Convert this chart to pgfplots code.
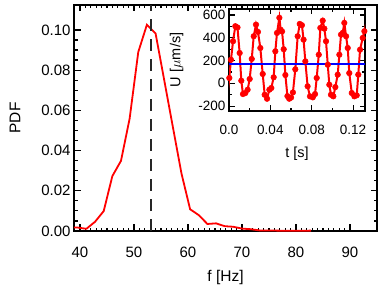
\documentclass[border=0pt]{standalone}
\usepackage{fontspec}
\setmainfont{Liberation Sans}
\usepackage{pgfplots}
\pgfplotsset{compat=1.18}
\begin{document}
\begin{tikzpicture}
\path[use as bounding box] (-74pt,-55pt) rectangle (308pt,231pt);
\begin{axis}[
  at={(0pt,0pt)}, anchor=south west,
  scale only axis, width=303pt, height=226pt,
  xmin=38.9, xmax=95, ymin=0, ymax=0.1124,
  xtick={40,50,60,70,80,90},
  ytick={0,0.02,0.04,0.06,0.08,0.10},
  minor x tick num=9, minor y tick num=3,
  tick align=inside,
  axis line style={line width=2pt},
  major tick length=6.5pt, minor tick length=3.5pt,
  tick style={black, line width=1.2pt},
  /pgf/number format/assume math mode=true,
  yticklabel style={/pgf/number format/.cd, fixed, fixed zerofill, precision=2},
  tick label style={font=\fontsize{15}{18}\selectfont},
  xticklabel style={yshift=-12.5pt},
  label style={font=\fontsize{15.5}{18}\selectfont},
  xlabel={f [Hz]}, ylabel={PDF},
  xlabel style={at={(axis description cs:0.5,-0.2035)}, anchor=center},
  ylabel style={at={(axis description cs:-0.1947,0.5)}, anchor=center},
]
\addplot[red, line width=1.8pt] coordinates {
(37.9,0.0018) (39.6,0.0017) (41.2,0.0011) (42.8,0.0046) (44.4,0.0099)
(46.0,0.0273) (47.6,0.0349) (49.2,0.0559) (50.8,0.0890) (52.4,0.1026)
(54.0,0.0983) (55.6,0.0751) (57.2,0.0518) (58.8,0.0286) (60.4,0.0108)
(62.0,0.0079) (63.6,0.0035) (65.2,0.0038) (66.8,0.0024) (68.4,0.0021)
(70.0,0.0012) (71.6,0.0009) (73.2,0.0003) (74.8,0.0002) (76.4,0.0002)
(78.0,0.0001) (79.6,0.0001) (81.2,0.0001) (82.8,0.0002)
};
\addplot[black!85, line width=1.7pt, dash pattern=on 12pt off 8pt] coordinates {(53.1,0) (53.1,0.1124)};
\end{axis}
\begin{axis}[
  at={(155pt,120.3pt)}, anchor=south west,
  scale only axis, width=136pt, height=101.7pt,
  axis background/.style={fill=white},
  xmin=0, xmax=0.1315, ymin=-240, ymax=652,
  xtick={0,0.04,0.08,0.12}, xticklabels={0.0,0.04,0.08,0.12},
  ytick={-200,0,200,400,600},
  minor x tick num=1, minor y tick num=1,
  tick align=inside,
  axis line style={line width=2pt},
  major tick length=5.5pt, minor tick length=3pt,
  tick style={black, line width=1.2pt},
  /pgf/number format/assume math mode=true,
  tick label style={font=\fontsize{13.5}{16}\selectfont},
  xticklabel style={yshift=-11.3pt},
  label style={font=\fontsize{14.5}{17}\selectfont},
  xlabel={t [s]}, ylabel={U [$\mu$m/s]},
  xlabel style={at={(axis description cs:0.5,-0.419)}, anchor=center},
  ylabel style={at={(axis description cs:-0.3846,0.5)}, anchor=center},
]
\addplot[red, line width=2pt, mark=*, mark size=2.8pt, mark options={solid, fill=red, draw=red, line width=0.5pt}] coordinates {
(-0.0015,-100) (0.0003,47) (0.0019,207) (0.0039,369) (0.0061,501) (0.0082,490)
(0.0103,266) (0.0119,23) (0.0135,-94) (0.0158,-85) (0.0180,-56) (0.0200,38)
(0.0220,214) (0.0239,413) (0.0261,515) (0.0280,451) (0.0303,310) (0.0326,82)
(0.0345,-100) (0.0368,-135) (0.0390,-56) (0.0409,-41) (0.0432,53) (0.0448,281)
(0.0464,442) (0.0487,575) (0.0500,470) (0.0513,455) (0.0529,299) (0.0545,73)
(0.0565,-112) (0.0582,-135) (0.0600,-125) (0.0618,-80) (0.0641,123) (0.0664,413)
(0.0684,521) (0.0705,510) (0.0721,383) (0.0738,193) (0.0760,-26) (0.0783,-114)
(0.0810,-123) (0.0832,-94) (0.0848,47) (0.0868,251) (0.0883,486) (0.0906,550)
(0.0922,480) (0.0938,369) (0.0955,163) (0.0970,-12) (0.0986,-100) (0.1009,-114)
(0.1028,-33) (0.1051,76) (0.1067,251) (0.1083,427) (0.1099,442) (0.1115,530)
(0.1132,413) (0.1148,310) (0.1163,90) (0.1187,-85) (0.1212,-114) (0.1235,-105)
(0.1250,76) (0.1267,295) (0.1293,398) (0.1309,457) (0.1325,520)
};
\addplot[blue, line width=2.2pt] coordinates {(0,167) (0.1315,167)};
\end{axis}
\end{tikzpicture}
\end{document}
